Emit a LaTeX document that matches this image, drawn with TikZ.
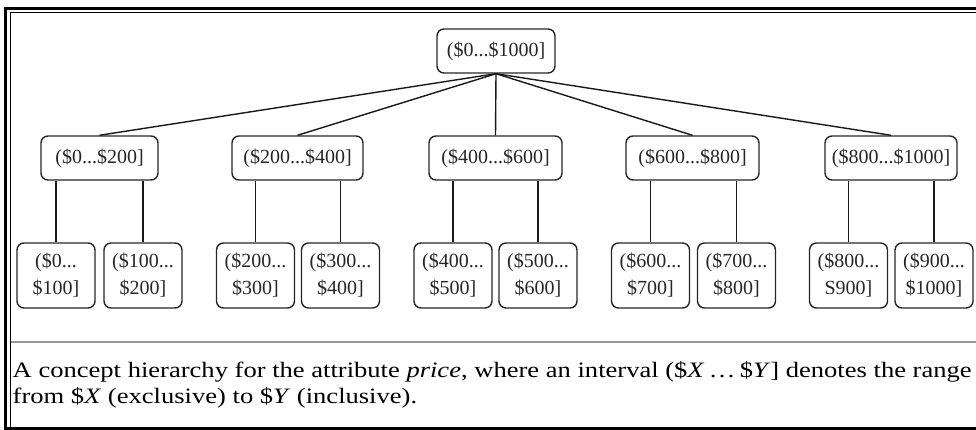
\documentclass[tikz,border=0pt]{standalone}
\usepackage{fontspec}
\setmainfont{Liberation Serif}
\usepackage{graphicx}
\newsavebox\capboxA
\newsavebox\capboxB
\begin{document}
\sbox\capboxA{\fontsize{22}{26}\selectfont A concept hierarchy for the attribute \textit{price}, where an interval (\$\textit{X}\,\ldots\,\$\textit{Y}] denotes the range}%
\sbox\capboxB{\fontsize{22}{26}\selectfont from \$\textit{X} (exclusive) to \$\textit{Y} (inclusive).}%
\begin{tikzpicture}[x=1pt,y=-1pt,
  box/.style={draw=black!85, line width=1.4pt, rounded corners=7pt, inner sep=0pt,
    font=\fontsize{20}{27}\selectfont, align=center, text=black!85},
  top/.style={box, minimum height=44pt},
  leaf/.style={box, minimum width=78pt, minimum height=65pt},
  conn/.style={draw=black!90, line width=1.4pt}
]
\useasboundingbox (0,0) rectangle (976,430);
% frame
\draw[line width=3.2pt] (5.5,8.5) -- (976,8.5);
\draw[line width=1.4pt] (10.5,12.3) -- (976,12.3);
\draw[line width=3.2pt] (5.5,6.9) -- (5.5,430);
\draw[line width=1.4pt] (10.5,12.3) -- (10.5,430);
\draw[line width=3.2pt] (3.9,428.4) -- (976,428.4);
% separator
\draw[black!40, line width=1.6pt] (10.5,342) -- (976,342);

% nodes
\node[top, minimum width=118pt] (root) at (496,51) {(\$0...\$1000]};
\node[top, minimum width=117pt] (p1) at (99.5,158) {(\$0...\$200]};
\node[top, minimum width=131pt] (p2) at (297.5,158) {(\$200...\$400]};
\node[top, minimum width=133pt] (p3) at (495.5,158) {(\$400...\$600]};
\node[top, minimum width=133pt] (p4) at (692.5,158) {(\$600...\$800]};
\node[top, minimum width=132pt] (p5) at (891,158) {(\$800...\$1000]};

\node[leaf] (l1) at (56,275.5) {(\$0...\\\$100]};
\node[leaf] (l2) at (143,275.5) {(\$100...\\\$200]};
\node[leaf] (l3) at (255.5,275.5) {(\$200...\\\$300]};
\node[leaf] (l4) at (340.5,275.5) {(\$300...\\\$400]};
\node[leaf] (l5) at (453,275.5) {(\$400...\\\$500]};
\node[leaf] (l6) at (538,275.5) {(\$500...\\\$600]};
\node[leaf] (l7) at (650.5,275.5) {(\$600...\\\$700]};
\node[leaf] (l8) at (736.5,275.5) {(\$700...\\\$800]};
\node[leaf] (l9) at (848.5,275.5) {(\$800...\\S900]};
\node[leaf] (l10) at (934,275.5) {(\$900...\\\$1000]};

% connectors
\foreach \p in {p1,p2,p3,p4,p5}
  \draw[conn] (root.south) -- (\p.north);
\foreach \p/\a/\b in {p1/l1/l2, p2/l3/l4, p3/l5/l6, p4/l7/l8, p5/l9/l10}{
  \draw[conn] (\p.south -| \a.north) -- (\a.north);
  \draw[conn] (\p.south -| \b.north) -- (\b.north);
}

% caption
\pgfmathsetmacro\capf{959/\the\wd\capboxA}
\node[anchor=base west, inner sep=0pt, text=black!90] (cap1) at (12.5,377) {\scalebox{\capf}[1]{\usebox\capboxA}};
\node[anchor=base west, inner sep=0pt, text=black!90] (cap2) at (12.5,403) {\scalebox{\capf}[1]{\usebox\capboxB}};
\end{tikzpicture}
\end{document}
